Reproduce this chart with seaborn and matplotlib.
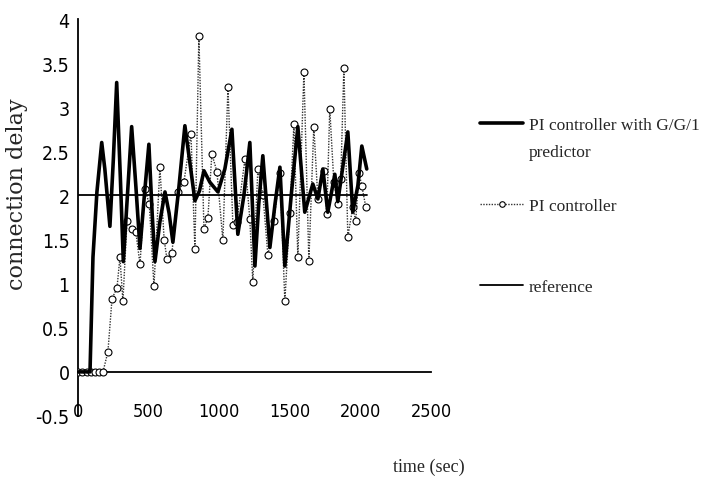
import matplotlib
matplotlib.use("Agg")
import matplotlib.pyplot as plt
from matplotlib.lines import Line2D
from matplotlib import font_manager
import seaborn as sns
import pandas as pd

# ---- data ----
ggi_time = [0, 30, 60, 85, 106, 134, 168, 190, 226, 250, 274, 300, 321, 350, 380, 410,
            439, 470, 502, 525, 545, 580, 616, 645, 672, 715, 757, 790, 828, 860, 892,
            934, 991, 1040, 1090, 1132, 1175, 1217, 1253, 1280, 1309, 1359, 1395, 1430,
            1465, 1510, 1557, 1606, 1663, 1699, 1734, 1769, 1819, 1840, 1911, 1946, 1982,
            2010, 2045]
ggi_delay = [0, 0, 0, 0, 1.3, 2.04, 2.6, 2.3, 1.65, 2.4, 3.28, 2.2, 1.25, 2.0, 2.78, 2.1,
             1.4, 2.0, 2.58, 1.8, 1.25, 1.7, 2.04, 1.8, 1.47, 2.1, 2.79, 2.4, 1.94, 2.05, 2.28,
             2.15, 2.04, 2.3, 2.75, 1.56, 2.0, 2.6, 1.2, 1.9, 2.45, 1.41, 1.9, 2.32,
             1.2, 2.0, 2.78, 1.81, 2.13, 1.96, 2.3, 1.81, 2.24, 1.93, 2.72, 1.81, 2.11,
             2.56, 2.3]

pi_time = [0, 28, 64, 92, 120, 149, 177, 212, 241, 276, 297, 318, 347, 382, 410, 439, 474,
           505, 538, 580, 610, 630, 665, 708, 750, 800, 828, 856, 892, 920, 948, 984, 1026,
           1062, 1097, 1125, 1182, 1217, 1238, 1274, 1310, 1345, 1387, 1430, 1465, 1500,
           1529, 1557, 1600, 1635, 1670, 1699, 1741, 1762, 1783, 1812, 1840, 1861, 1883,
           1911, 1946, 1967, 1989, 2010, 2038]
pi_delay = [0, 0, 0, 0, 0, 0, 0, 0.23, 0.83, 0.95, 1.3, 0.8, 1.71, 1.62, 1.58, 1.22, 2.07,
            1.9, 0.97, 2.32, 1.5, 1.28, 1.35, 2.04, 2.15, 2.7, 1.39, 3.81, 1.62, 1.75, 2.47, 2.27, 1.49,
            3.23, 1.66, 1.7, 2.41, 1.73, 1.02, 2.3, 2.0, 1.32, 1.71, 2.26, 0.8, 1.8,
            2.81, 1.3, 3.4, 1.26, 2.78, 1.96, 2.28, 1.79, 2.98, 2.15, 1.9, 2.19, 3.45,
            1.53, 1.87, 1.71, 2.26, 2.11, 1.87]

ref_time = [0, 2050]
ref_delay = [2, 2]

series_labels = ["PI controller with G/G/1", "predictor", "PI controller", "reference"]
x_ticks = [0, 500, 1000, 1500, 2000, 2500]
y_ticks = [-0.5, 0, 0.5, 1, 1.5, 2, 2.5, 3, 3.5, 4]
y_tick_labels = ["-0.5", "0", "0.5", "1", "1.5", "2", "2.5", "3", "3.5", "4"]

# ---- style ----
sns.set_theme(style="white")
plt.rcParams["font.family"] = ["Liberation Serif", "DejaVu Serif"]
tick_fp_y = font_manager.FontProperties(family="DejaVu Sans", stretch="condensed", size=14)
tick_fp_x = font_manager.FontProperties(family="DejaVu Sans", stretch="condensed", size=13)

fig = plt.figure(figsize=(7.12, 4.81), dpi=100)
W, H = 712, 481
L, R, T, B = 78, 431, 20, 417
ax = fig.add_axes([L / W, 1 - B / H, (R - L) / W, (B - T) / H])

df_ggi = pd.DataFrame({"time": ggi_time, "delay": ggi_delay})
df_pi = pd.DataFrame({"time": pi_time, "delay": pi_delay})
df_ref = pd.DataFrame({"time": ref_time, "delay": ref_delay})

sns.lineplot(data=df_pi, x="time", y="delay", ax=ax, color="#333333", lw=1.0,
             linestyle=(0, (1, 1)), marker="o", markersize=5, markerfacecolor="white",
             markeredgecolor="black", markeredgewidth=0.8, zorder=3, sort=False)
sns.lineplot(data=df_ggi, x="time", y="delay", ax=ax, color="black", lw=2.6, zorder=4,
             sort=False)
sns.lineplot(data=df_ref, x="time", y="delay", ax=ax, color="black", lw=1.3, zorder=5,
             sort=False)

ax.set_xlim(0, 2500)
ax.set_ylim(-0.5, 4)
ax.spines["top"].set_visible(False)
ax.spines["right"].set_visible(False)
ax.spines["bottom"].set_position(("data", 0))
for s in ("left", "bottom"):
    ax.spines[s].set_color("black")
    ax.spines[s].set_linewidth(1.3)

ax.set_xticks(x_ticks)
ax.set_xticklabels([str(v) for v in x_ticks])
for t in ax.get_xticklabels():
    t.set_fontproperties(tick_fp_x)
ax.set_yticks(y_ticks)
ax.set_yticklabels(y_tick_labels)
for t in ax.get_yticklabels():
    t.set_fontproperties(tick_fp_y)
ax.tick_params(axis="x", direction="out", length=7, width=1.2, pad=15, colors="black")
ax.tick_params(axis="y", direction="out", length=4, width=1.2, pad=2, colors="black")

ax.set_xlabel("time (sec)", fontsize=13)
ax.xaxis.set_label_coords(0.995, -0.105)
ax.set_ylabel("connection delay", fontsize=16, fontfamily=["DejaVu Serif"])
ax.yaxis.set_label_coords(-0.142, 0.56)

# ---- legend ----
blank = Line2D([], [], color="none")
handles = [
    Line2D([], [], color="black", lw=2.6),
    blank,
    blank,
    Line2D([], [], color="#333333", lw=1.0, linestyle=(0, (1, 1)), marker="o",
           markersize=4, markerfacecolor="white", markeredgecolor="black",
           markeredgewidth=0.8),
    blank,
    blank,
    Line2D([], [], color="black", lw=1.3),
]
labels = [series_labels[0], series_labels[1], " ", series_labels[2], " ", " ",
          series_labels[3]]
leg = fig.legend(handles, labels, loc="upper left",
                 bbox_to_anchor=(480 / W, 1 - 118 / H), bbox_transform=fig.transFigure,
                 frameon=False, fontsize=12.5, handlelength=2.5, handletextpad=0.3,
                 labelspacing=0.62, borderpad=0, borderaxespad=0)

fig.savefig("out.png", dpi=100, facecolor="white")
